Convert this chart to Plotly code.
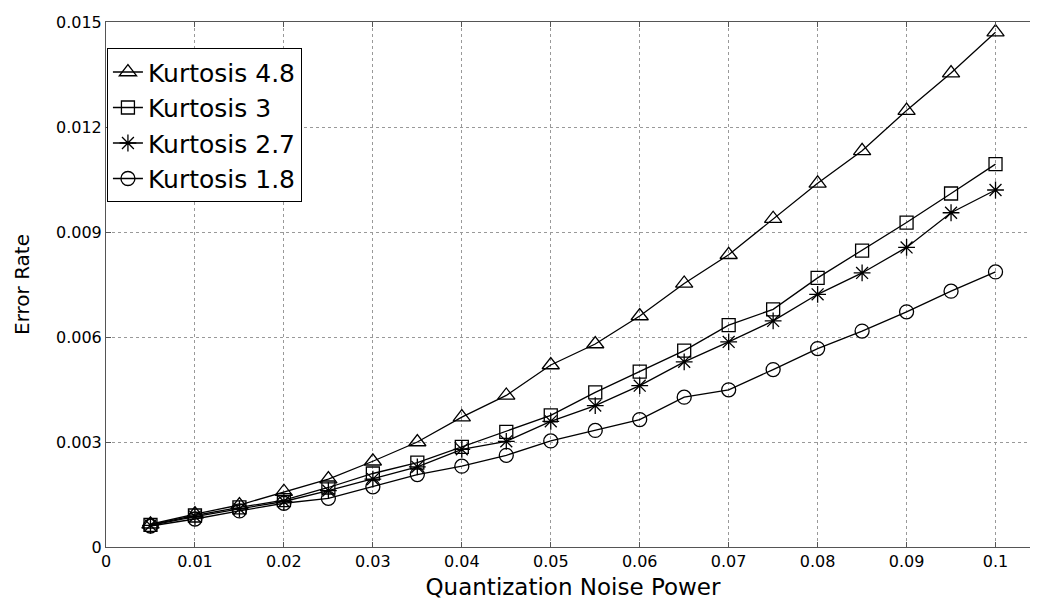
import plotly.graph_objects as go

noise_power = [0.005, 0.01, 0.015, 0.02, 0.025, 0.03, 0.035, 0.04, 0.045, 0.05,
               0.055, 0.06, 0.065, 0.07, 0.075, 0.08, 0.085, 0.09, 0.095, 0.1]
kurt_48 = [0.00065, 0.00094, 0.00120, 0.00158, 0.00194, 0.00245, 0.00300, 0.00371, 0.00433, 0.00520,
           0.00580, 0.00660, 0.00753, 0.00835, 0.00938, 0.01039, 0.01132, 0.01247, 0.01354, 0.01471]
kurt_3 = [0.00063, 0.00090, 0.00113, 0.00134, 0.00170, 0.00210, 0.00241, 0.00286, 0.00329, 0.00376,
          0.00442, 0.00501, 0.00561, 0.00634, 0.00679, 0.00769, 0.00847, 0.00927, 0.01010, 0.01094]
kurt_27 = [0.00062, 0.00087, 0.00109, 0.00130, 0.00161, 0.00194, 0.00229, 0.00279, 0.00302, 0.00359,
           0.00404, 0.00461, 0.00529, 0.00586, 0.00646, 0.00722, 0.00783, 0.00856, 0.00955, 0.01020]
kurt_18 = [0.00060, 0.00080, 0.00103, 0.00125, 0.00139, 0.00172, 0.00207, 0.00231, 0.00262, 0.00303,
           0.00333, 0.00364, 0.00428, 0.00449, 0.00507, 0.00567, 0.00617, 0.00672, 0.00731, 0.00786]

series_names = ["Kurtosis 4.8", "Kurtosis 3", "Kurtosis 2.7", "Kurtosis 1.8"]
series_values = [kurt_48, kurt_3, kurt_27, kurt_18]
series_symbols = ["triangle-up-open", "square-open", "asterisk-open", "circle-open"]
series_sizes = [15, 13, 14, 14]

x_tickvals = [0, 0.01, 0.02, 0.03, 0.04, 0.05, 0.06, 0.07, 0.08, 0.09, 0.1]
x_ticktext = ["0", "0.01", "0.02", "0.03", "0.04", "0.05", "0.06", "0.07", "0.08", "0.09", "0.1"]
y_tickvals = [0, 0.003, 0.006, 0.009, 0.012, 0.015]
y_ticktext = ["0", "0.003", "0.006", "0.009", "0.012", "0.015"]

FONT = "DejaVu Sans"

fig = go.Figure()
for name, vals, sym, sz in zip(series_names, series_values, series_symbols, series_sizes):
    fig.add_trace(go.Scatter(
        x=noise_power, y=vals, name=name, mode="lines+markers",
        line=dict(color="black", width=1.3),
        marker=dict(symbol=sym, size=sz, color="black", line=dict(color="black", width=1.3)),
    ))

axis_common = dict(
    showline=True, linecolor="#555555", linewidth=1, mirror="ticks",
    ticks="inside", ticklen=5, tickcolor="#555555",
    showgrid=True, gridcolor="#999999", griddash="dot", gridwidth=1,
    zeroline=False, tickfont=dict(family=FONT, size=16, color="black"),
)

fig.update_xaxes(range=[0, 0.105], tickvals=x_tickvals, ticktext=x_ticktext,
                 title=dict(text="Quantization Noise Power", font=dict(family=FONT, size=23, color="black"), standoff=8),
                 **axis_common)
fig.update_yaxes(range=[0, 0.015], tickvals=y_tickvals, ticktext=y_ticktext,
                 title=dict(text="Error Rate", font=dict(family=FONT, size=20, color="black"), standoff=20),
                 **axis_common)

fig.update_layout(
    width=1038, height=602,
    margin=dict(l=98, r=5, t=11, b=63),
    paper_bgcolor="white", plot_bgcolor="white",
    font=dict(family=FONT, color="black"),
    legend=dict(x=0.001, y=0.95, xanchor="left", yanchor="top",
                bgcolor="white", bordercolor="black", borderwidth=1,
                font=dict(family=FONT, size=25, color="black"),
                itemwidth=30, tracegroupgap=0),
)

fig.write_html("out.html")
